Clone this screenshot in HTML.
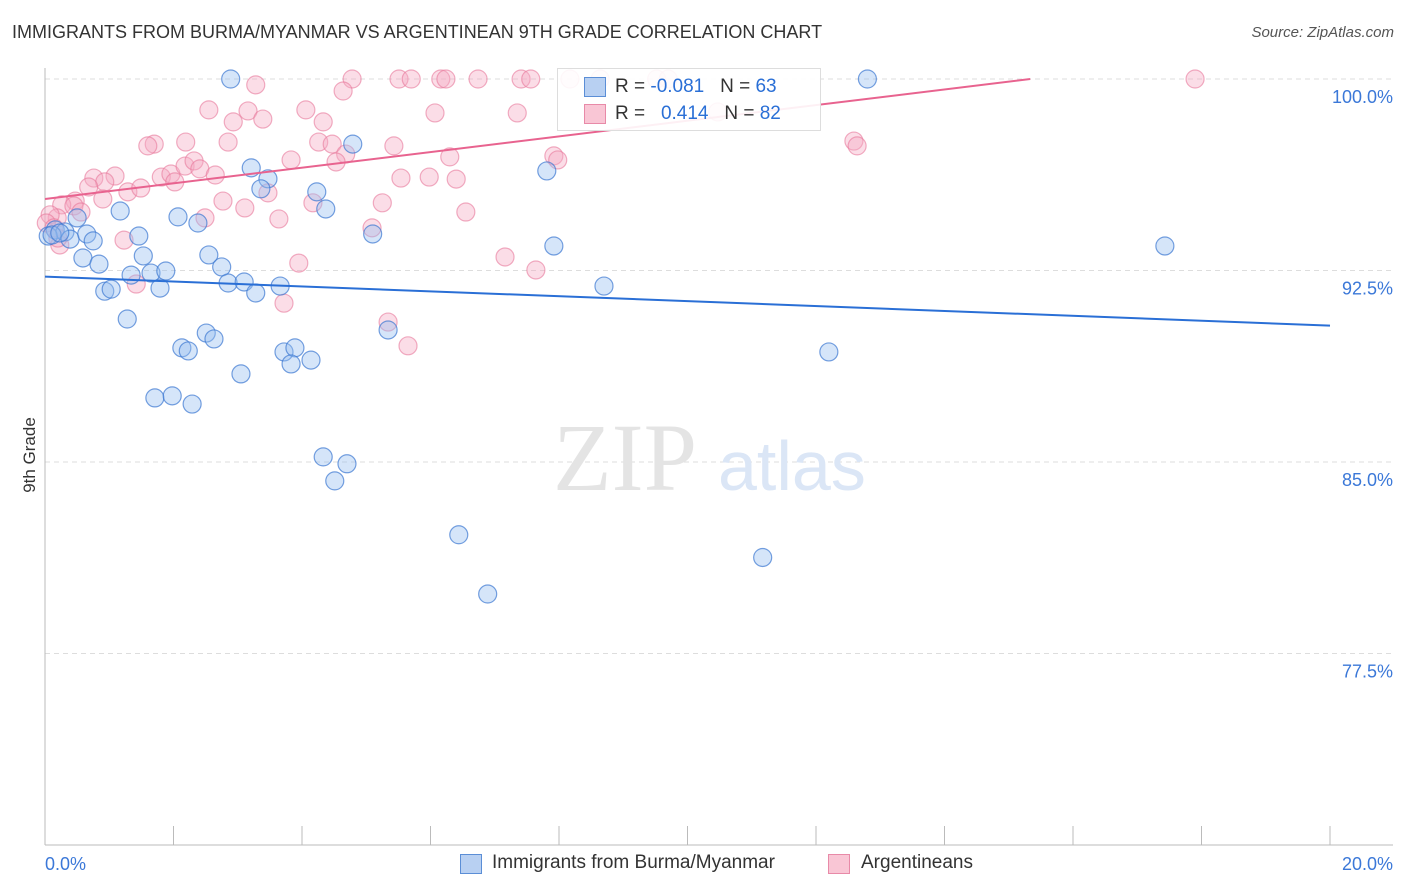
<!DOCTYPE html>
<html><head><meta charset="utf-8">
<style>
body{margin:0;background:#fff;font-family:"Liberation Sans",sans-serif;}
#wrap{position:relative;width:1406px;height:892px;overflow:hidden;}
.t{position:absolute;white-space:nowrap;}
</style></head>
<body>
<div id="wrap">
<div class="t" style="left:12px;top:22px;font-size:18px;color:#333;">IMMIGRANTS FROM BURMA/MYANMAR VS ARGENTINEAN 9TH GRADE CORRELATION CHART</div>
<div class="t" style="right:12px;top:24px;font-size:15px;color:#555;font-style:italic;">Source: ZipAtlas.com</div>
<div class="t" style="left:-8px;top:445px;font-size:17px;color:#333;transform:rotate(-90deg);">9th Grade</div>
<svg id="plot" width="1406" height="892" style="position:absolute;left:0;top:0"></svg>
<div style="position:absolute;left:557px;top:68px;width:262px;height:61px;border:1px solid #ddd;background:rgba(255,255,255,0.9);font-size:19px;">
<div style="position:absolute;left:26px;top:8px;width:20px;height:18px;background:#b8d0f2;border:1px solid #5b8ed6;"></div>
<div class="t" style="left:57px;top:7px;color:#333;">R = <span style="color:#2a6fd6">-0.081</span>&nbsp;&nbsp;&nbsp;N = <span style="color:#2a6fd6">63</span></div>
<div style="position:absolute;left:26px;top:35px;width:20px;height:18px;background:#f9c6d5;border:1px solid #e88aa8;"></div>
<div class="t" style="left:57px;top:34px;color:#333;">R = &nbsp;&nbsp;<span style="color:#2a6fd6">0.414</span>&nbsp;&nbsp;&nbsp;N = <span style="color:#2a6fd6">82</span></div>
</div>
<div style="position:absolute;left:460px;top:852px;font-size:19px;color:#333;">
<div style="position:absolute;left:0;top:2px;width:20px;height:18px;background:#b8d0f2;border:1px solid #5b8ed6;"></div>
<div class="t" style="left:32px;top:0;">Immigrants from Burma/Myanmar</div>
<div style="position:absolute;left:368px;top:2px;width:20px;height:18px;background:#f9c6d5;border:1px solid #e88aa8;"></div>
<div class="t" style="left:401px;top:0;">Argentineans</div>
</div>
</div>
<script>
const xTicks=[0,20];
const yTicks=[100,92.5,85,77.5];
const blueX=[2.89,12.8,4.79,7.81,3.21,3.47,3.36,4.23,4.37,1.17,2.07,2.38,0.5,5.1,7.92,17.43,0.16,0.31,0.05,0.39,0.65,0.75,1.46,0.59,0.84,1.53,2.55,1.34,1.65,1.88,2.75,2.85,3.1,3.28,3.66,8.7,0.93,1.03,1.79,1.28,5.34,2.51,2.63,2.13,2.23,3.72,3.89,3.83,4.14,12.2,3.05,1.71,1.98,2.29,4.33,4.7,4.51,6.44,11.17,6.89,0.11,0.23];
const blueY=[100,100,97.45,96.4,96.52,96.09,95.7,95.58,94.91,94.83,94.6,94.36,94.56,93.93,93.46,93.46,94.09,94.01,93.85,93.73,93.93,93.66,93.85,92.99,92.75,93.07,93.11,92.32,92.4,92.48,92.64,92.01,92.05,91.62,91.89,91.89,91.69,91.77,91.81,90.6,90.17,90.05,89.82,89.47,89.35,89.31,89.47,88.84,88.99,89.31,88.45,87.51,87.59,87.27,85.2,84.93,84.26,82.15,81.26,79.83,93.89,93.97];
const pinkX=[4.78,5.51,5.7,6.16,6.24,6.74,7.41,7.56,8.17,8.64,9.52,9.7,17.9,3.28,4.64,2.55,3.16,3.39,2.93,4.06,4.33,6.07,7.35,1.7,1.6,2.19,2.85,3.83,4.26,4.47,4.68,5.43,6.3,7.92,7.98,12.59,12.64,0.76,1.09,0.93,1.29,1.49,1.81,1.96,2.18,2.32,2.41,2.02,2.65,0.68,0.9,0.47,0.26,0.45,0.56,0.19,0.08,0.23,1.23,1.42,2.49,2.77,3.11,3.47,3.64,4.17,4.53,5.25,5.54,6.4,6.55,5.98,5.09,3.95,3.72,7.16,7.64,5.34,5.65,10.47,0.02,0.14,0.2];
const pinkY=[100,100,100,100,100,100,100,100,100,100,100,100,100,99.77,99.53,98.79,98.75,98.43,98.32,98.79,98.32,98.67,98.67,97.45,97.38,97.53,97.53,96.83,97.53,97.45,97.06,97.38,96.95,96.99,96.83,97.57,97.38,96.12,96.2,95.97,95.58,95.73,96.16,96.28,96.59,96.79,96.48,95.97,96.24,95.77,95.3,95.22,95.07,95.03,94.79,94.56,94.68,93.5,93.69,91.97,94.56,95.22,94.95,95.54,94.52,95.15,96.75,95.15,96.12,96.08,94.79,96.16,94.17,92.79,91.22,93.03,92.52,90.48,89.55,98.71,94.36,94.17,93.77];
const blueLine=[92.26,90.34];
const pinkLine=[95.3,101.43];
const svg=document.getElementById('plot');const NS='http://www.w3.org/2000/svg';
const X0=45,X1=1330;
function sx(v){return X0+(v/20)*(X1-X0);}
function sy(v){return 79+(100-v)/7.5*191.5;}
function mk(tag,a){const e=document.createElementNS(NS,tag);for(const k in a)e.setAttribute(k,a[k]);svg.appendChild(e);return e;}
yTicks.forEach(v=>{const g=mk('line',{x1:X0,x2:1393,y1:sy(v),y2:sy(v),stroke:'#ddd','stroke-dasharray':'5,4'});


const t=mk('text',{x:1393,y:sy(v)+24,'text-anchor':'end',fill:'#3b78d8','font-size':'18','font-family':'Liberation Sans'});t.textContent=v.toFixed(1)+'%';

});
const ax=mk('line',{x1:X0,x2:X0,y1:68,y2:845,stroke:'#bbb'});


const bx=mk('line',{x1:X0,x2:1393,y1:845,y2:845,stroke:'#bbb'});


for(let i=0;i<=10;i++){const tk=mk('line',{x1:sx(i*2),x2:sx(i*2),y1:826,y2:845,stroke:'#bbb'});

}
xTicks.forEach((v,i)=>{const t=mk('text',{x:i==0?45:1393,y:870,'text-anchor':i==0?'start':'end',fill:'#3b78d8','font-size':'18','font-family':'Liberation Sans'});t.textContent=v.toFixed(1)+'%';

});
const w1=mk('text',{x:553,y:490,fill:'#e4e4e4','font-size':'96','font-family':'Liberation Serif'});w1.textContent='ZIP';


const w2=mk('text',{x:718,y:490,fill:'#dbe6f6','font-size':'70','font-family':'Liberation Sans'});w2.textContent='atlas';


pinkX.forEach((x,i)=>{const c=mk('circle',{cx:sx(x),cy:sy(pinkY[i]),r:9,fill:'rgba(246,170,195,0.4)',stroke:'rgba(232,120,155,0.6)','stroke-width':1.2});

});
blueX.forEach((x,i)=>{const c=mk('circle',{cx:sx(x),cy:sy(blueY[i]),r:9,fill:'rgba(150,190,240,0.4)',stroke:'rgba(60,120,210,0.7)','stroke-width':1.2});

});
const bl=mk('line',{x1:sx(0),y1:sy(blueLine[0]),x2:sx(20),y2:sy(blueLine[1]),stroke:'#2a6fd6','stroke-width':2});


const xe=(100-pinkLine[0])/(pinkLine[1]-pinkLine[0])*20;
const pl=mk('line',{x1:sx(0),y1:sy(pinkLine[0]),x2:sx(xe),y2:sy(100),stroke:'#e8638f','stroke-width':2});


</script>
</body></html>
